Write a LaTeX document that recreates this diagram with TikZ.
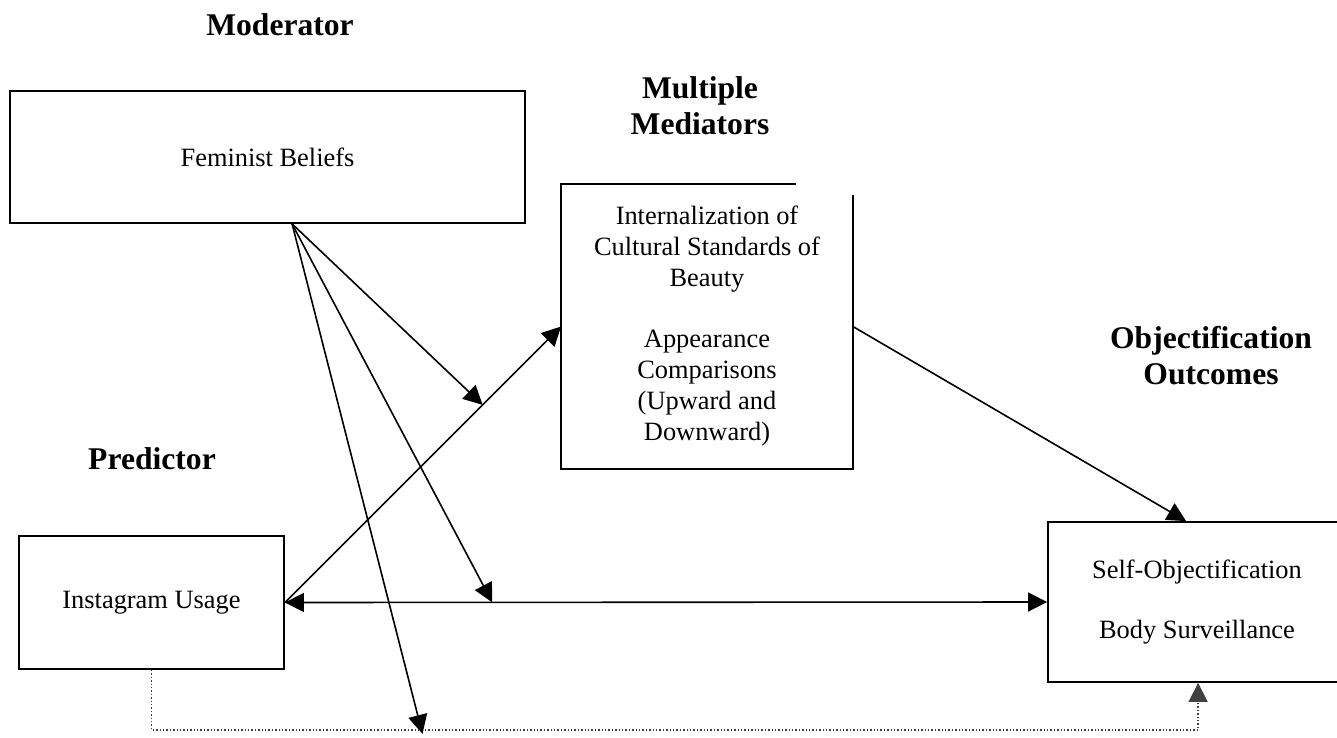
\documentclass[tikz,border=0pt]{standalone}
\usepackage{fontspec}
\setmainfont{Liberation Serif}
\usepackage{tikz}
\usetikzlibrary{arrows.meta,positioning,calc}
\tikzset{
  >={Triangle[length=9.5pt,width=9.5pt]},
  constructbox/.style={
    draw,
    line width=0.9pt,
    align=center,
    inner sep=0pt,
    font=\fontsize{13.2}{15.5}\selectfont
  },
  headlabel/.style={
    align=center,
    inner sep=0pt,
    font=\fontsize{15.8}{18}\selectfont\bfseries
  },
  patharrow/.style={
    ->,
    line width=0.8pt
  },
  dotlink/.style={
    ->,
    densely dotted,
    line width=0.7pt,
    draw=black!75
  }
}

\begin{document}
\begin{tikzpicture}[x=0.5pt,y=-0.5pt]
  \useasboundingbox (0,0) rectangle (1337,738);
  \clip (0,0) rectangle (1337,738);

  % headings
  \node[headlabel] (modlabel) at (280,25) {Moderator};
  \node[headlabel] (medlabel) at (700,106) {Multiple\\[0pt]Mediators};
  \node[headlabel] (outlabel) at (1211,356) {Objectification\\Outcomes};
  \node[headlabel] (predlabel) at (152,459) {Predictor};

  % boxes
  \node[constructbox, minimum width=154pt, minimum height=80pt] (self) at (1202,602) {\hspace*{-5pt}Self-Objectification\\[14.5pt]\hspace*{-5pt}Body Surveillance};
  \node[constructbox, minimum width=257.5pt, minimum height=66pt] (feminist) at (267.5,157) {Feminist Beliefs};
  \node[constructbox, minimum width=132.5pt, minimum height=66.5pt] (insta) at (151.5,602.5) {Instagram Usage};
  \node[constructbox, draw=none, minimum width=145pt, minimum height=141.5pt] (mediator) at (707,326.5)
    {Internalization of\\Cultural Standards of\\Beauty\\[15pt]Appearance\\Comparisons\\(Upward and\\Downward)};
  \draw[line width=0.9pt] ($(mediator.north west)+(235,0)$) -- (mediator.north west)
    -- (mediator.south west) -- (mediator.south east) -- ($(mediator.north east)+(0,11)$);

  % helper points
  \coordinate (fb) at ($(feminist.south west)+(283,0)$);
  \coordinate (dotlow) at ($(insta.south)+(0,60)$);
  \coordinate (onmed) at ($(insta.east)!0.716!(mediator.west)$);
  \coordinate (onmid) at ($(insta.east)!0.272!(self.west)$);
  \coordinate (ondot) at ($(dotlow)+(271,4)$);

  % paths
  \draw[patharrow] (insta.east) -- (mediator.west);
  \draw[patharrow, <->] (insta.east) -- (self.west);
  \draw[patharrow] (mediator.east) -- ($(self.north west)+(139,0)$);
  \draw[dotlink] (insta.south) -- (dotlow) -| ($(self.south west)+(151,0)$);

  % moderation
  \draw[patharrow] (fb) -- (onmed);
  \draw[patharrow] (fb) -- (onmid);
  \draw[patharrow] (fb) -- (ondot);
\end{tikzpicture}
\end{document}
